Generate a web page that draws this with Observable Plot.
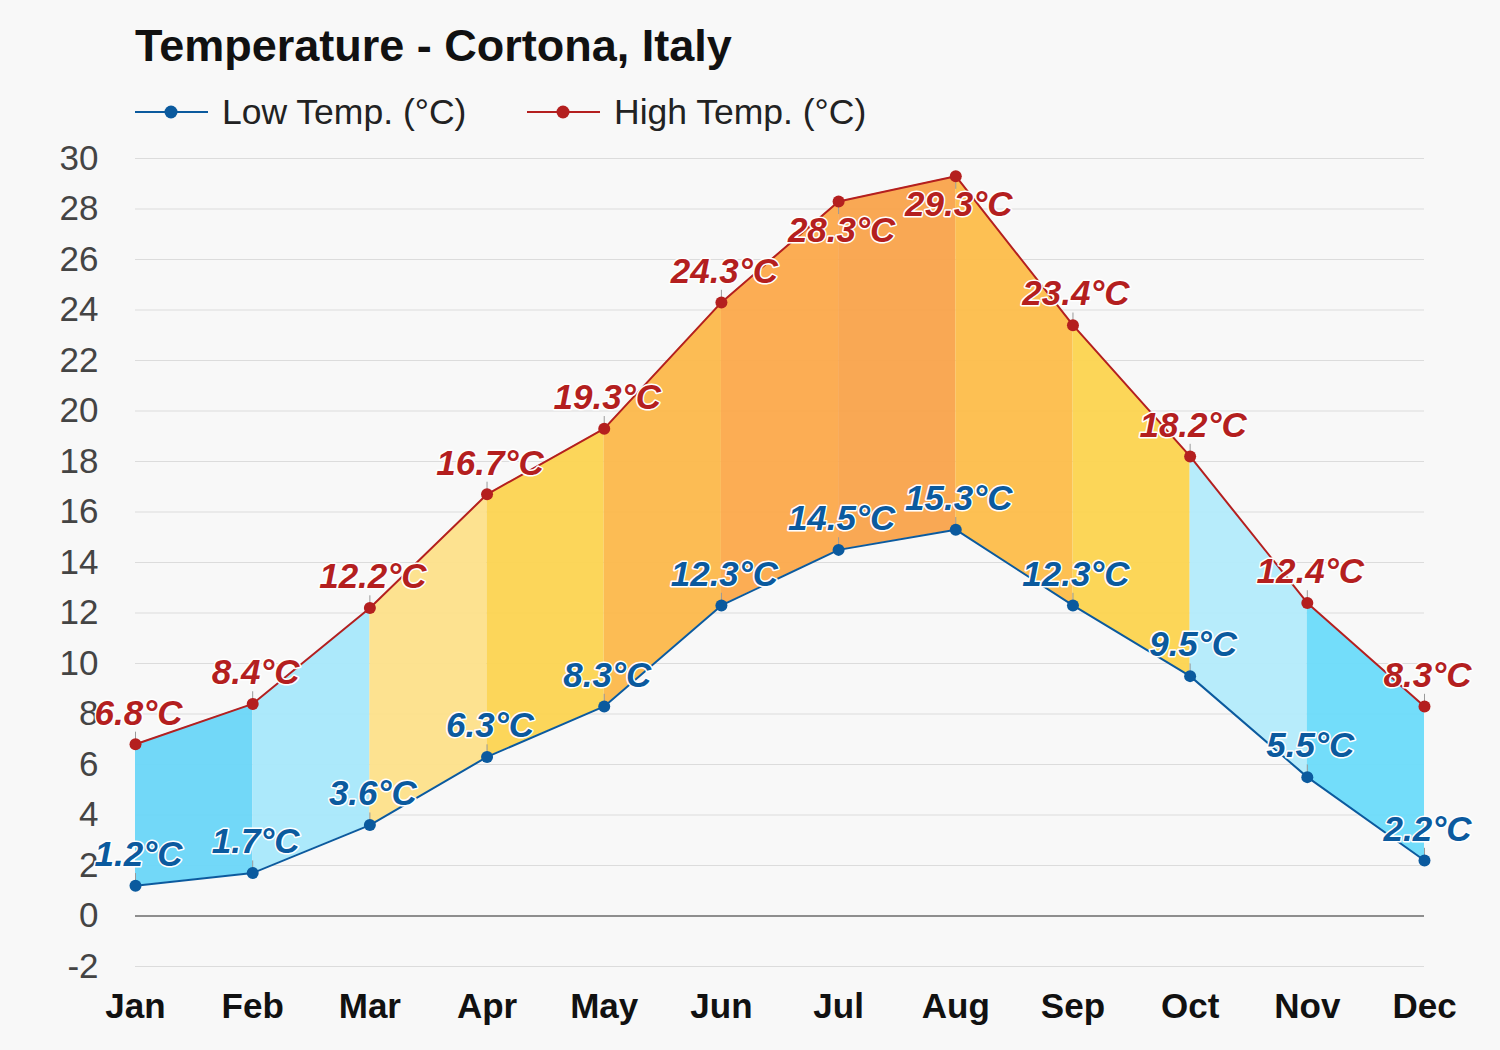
<!DOCTYPE html>
<html>
<head>
<meta charset="utf-8">
<script src="https://cdn.jsdelivr.net/npm/d3@7"></script>
<script src="https://cdn.jsdelivr.net/npm/@observablehq/plot@0.6"></script>
<style>
  html, body { margin: 0; padding: 0; background: #f8f8f8; }
  body { width: 1500px; height: 1050px; overflow: hidden; font-family: "Liberation Sans", Arial, sans-serif; }
  #header { position: relative; height: 135px; }
  #title { position: absolute; left: 135px; top: 21px; font-size: 45px; font-weight: bold; color: #111; line-height: 50px; white-space: nowrap; }
  .leg { position: absolute; top: 92px; height: 40px; display: flex; align-items: center; font-size: 35.5px; color: #222; white-space: nowrap; }
  .leg svg { margin-right: 14px; }
</style>
</head>
<body>
<div id="header">
  <div id="title">Temperature - Cortona, Italy</div>
  <div class="leg" style="left:135px"><svg width="73" height="20"><line x1="0" y1="10" x2="73" y2="10" stroke="#0b5a9e" stroke-width="2"/><circle cx="36" cy="10" r="6.5" fill="#0b5a9e"/></svg>Low Temp. (°C)</div>
  <div class="leg" style="left:527px"><svg width="73" height="20"><line x1="0" y1="10" x2="73" y2="10" stroke="#b41f1f" stroke-width="2"/><circle cx="36" cy="10" r="6.5" fill="#b41f1f"/></svg>High Temp. (°C)</div>
</div>
<div id="chart"></div>
<script>
const months = ["Jan","Feb","Mar","Apr","May","Jun","Jul","Aug","Sep","Oct","Nov","Dec"];
const lowTemps = [1.2, 1.7, 3.6, 6.3, 8.3, 12.3, 14.5, 15.3, 12.3, 9.5, 5.5, 2.2];
const highTemps = [6.8, 8.4, 12.2, 16.7, 19.3, 24.3, 28.3, 29.3, 23.4, 18.2, 12.4, 8.3];
const yTicks = [-2, 0, 2, 4, 6, 8, 10, 12, 14, 16, 18, 20, 22, 24, 26, 28, 30];
const segColors = ["#6ad6f8","#a8e8fb","#fde08a","#fcd451","#fcb84b","#fca94b","#f9a34b","#fdbd4a","#fcd44f","#b3ebfb","#6cdbfa"];

const lowColor = "#0b5a9e";
const highColor = "#b41f1f";

const pts = months.map((m, i) => ({i, m, low: lowTemps[i], high: highTemps[i]}));
const segs = [];
for (let s = 0; s < months.length - 1; s++) {
  segs.push({seg: s, x: s, low: lowTemps[s], high: highTemps[s], color: segColors[s]});
  segs.push({seg: s, x: s + 1, low: lowTemps[s + 1], high: highTemps[s + 1], color: segColors[s]});
}
const topLimit = 27;
const highAbove = pts.filter(d => d.high <= topLimit);
const highBelow = pts.filter(d => d.high > topLimit);

const font = "Liberation Sans, Arial, sans-serif";
const labelStyle = {fontSize: 35, fontWeight: "bold", fontStyle: "italic", stroke: "white", strokeWidth: 3};

const chart = Plot.plot({
  width: 1500,
  height: 915,
  marginLeft: 135,
  marginRight: 76,
  marginTop: 23,
  marginBottom: 84,
  style: {background: "transparent", fontFamily: font},
  x: {domain: [0, 11], axis: null},
  y: {domain: [-2, 30], axis: null},
  marks: [
    Plot.gridY(yTicks, {stroke: "#dcdcdc", strokeOpacity: 1, strokeWidth: 1}),
    Plot.areaY(segs, {x: "x", y1: "low", y2: "high", z: "seg", fill: d => d.color, fillOpacity: 0.95}),
    Plot.ruleY([0], {stroke: "#333", strokeWidth: 1}),
    Plot.axisY(yTicks, {tickSize: 0, tickPadding: 37, fontSize: 35, fill: "#444", label: null, tickFormat: d => String(d)}),
    Plot.axisX(d3.range(12), {tickSize: 0, tickPadding: 27, fontSize: 35, fontWeight: "bold", fill: "#111", tickFormat: i => months[i], label: null}),
    Plot.line(pts, {x: "i", y: "low", stroke: lowColor, strokeWidth: 2}),
    Plot.line(pts, {x: "i", y: "high", stroke: highColor, strokeWidth: 2}),
    Plot.link(pts, {x1: "i", x2: "i", y1: "low", y2: d => d.low + 0.5, stroke: "#999", strokeWidth: 1}),
    Plot.link(highAbove, {x1: "i", x2: "i", y1: "high", y2: d => d.high + 0.5, stroke: "#999", strokeWidth: 1}),
    Plot.link(highBelow, {x1: "i", x2: "i", y1: "high", y2: d => d.high - 0.5, stroke: "#999", strokeWidth: 1}),
    Plot.dot(pts, {x: "i", y: "low", r: 6, fill: lowColor}),
    Plot.dot(pts, {x: "i", y: "high", r: 6, fill: highColor}),
    Plot.text(pts, {x: "i", y: "low", text: d => d.low.toFixed(1) + "°C", dy: -31, dx: 3, fill: lowColor, ...labelStyle}),
    Plot.text(highAbove, {x: "i", y: "high", text: d => d.high.toFixed(1) + "°C", dy: -31, dx: 3, fill: highColor, ...labelStyle}),
    Plot.text(highBelow, {x: "i", y: "high", text: d => d.high.toFixed(1) + "°C", dy: 29, dx: 3, fill: highColor, ...labelStyle})
  ]
});
document.getElementById("chart").appendChild(chart);
</script>
</body>
</html>
